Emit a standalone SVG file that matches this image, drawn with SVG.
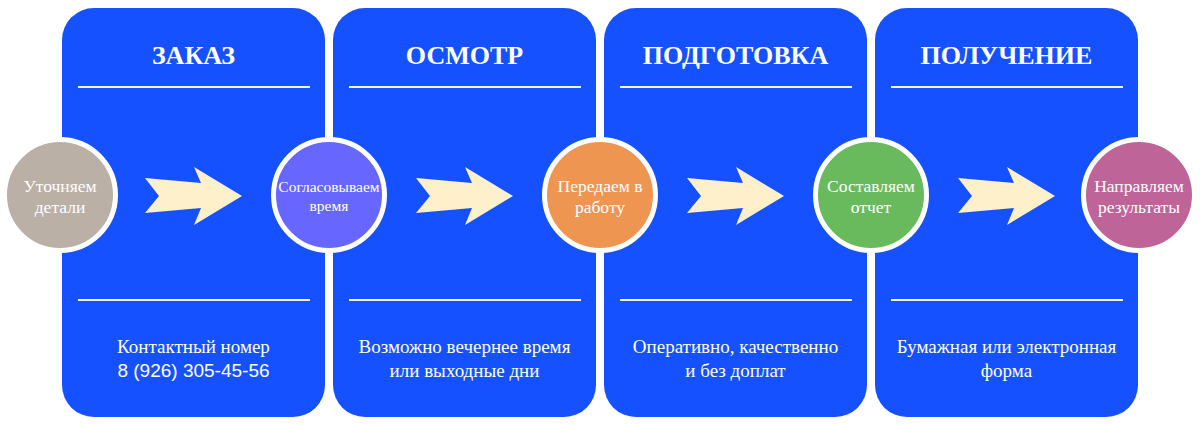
<svg xmlns="http://www.w3.org/2000/svg" width="1200" height="424" viewBox="0 0 1200 424">
  <defs>
    <style>
      .panel { fill: #1551FF; }
      .sep { stroke: #F2F5FF; stroke-width: 2; }
      .title { font-family: "Liberation Serif", "Times New Roman", serif; font-weight: bold; font-size: 26px; fill: #FFFFFF; text-anchor: middle; }
      .desc { font-family: "Liberation Serif", "Times New Roman", serif; font-size: 19px; fill: #FFFFFF; text-anchor: middle; }
      .desc-sans { font-family: "Liberation Sans", Arial, sans-serif; font-size: 19px; fill: #FFFFFF; text-anchor: middle; }
      .ring { stroke: #FFFFFF; stroke-width: 5; }
      .ctext { font-family: "Liberation Serif", "Times New Roman", serif; font-size: 17.5px; fill: #FFFFFF; text-anchor: middle; }
      .arrow { fill: #FFF0CC; }
    </style>
  </defs>
  <rect width="1200" height="424" fill="#FFFFFF"/>

  <g id="panel-zakaz">
    <rect class="panel" x="62" y="8" width="263" height="409" rx="32" ry="32"/>
    <text class="title" x="193.5" y="64">ЗАКАЗ</text>
    <line class="sep" x1="78" y1="87" x2="310" y2="87"/>
    <line class="sep" x1="78" y1="300" x2="310" y2="300"/>
    <text class="desc" x="193.5" y="353">Контактный номер</text>
    <text class="desc-sans" x="193.5" y="377">8 (926) 305-45-56</text>
  </g>

  <g id="panel-osmotr">
    <rect class="panel" x="333" y="8" width="263" height="409" rx="32" ry="32"/>
    <text class="title" x="464.5" y="64">ОСМОТР</text>
    <line class="sep" x1="349" y1="87" x2="581" y2="87"/>
    <line class="sep" x1="349" y1="300" x2="581" y2="300"/>
    <text class="desc" x="464.5" y="353">Возможно вечернее время</text>
    <text class="desc" x="464.5" y="377">или выходные дни</text>
  </g>

  <g id="panel-podgotovka">
    <rect class="panel" x="604" y="8" width="263" height="409" rx="32" ry="32"/>
    <text class="title" x="735.5" y="64">ПОДГОТОВКА</text>
    <line class="sep" x1="620" y1="87" x2="852" y2="87"/>
    <line class="sep" x1="620" y1="300" x2="852" y2="300"/>
    <text class="desc" x="735.5" y="353">Оперативно, качественно</text>
    <text class="desc" x="735.5" y="377">и без доплат</text>
  </g>

  <g id="panel-poluchenie">
    <rect class="panel" x="875" y="8" width="263" height="409" rx="32" ry="32"/>
    <text class="title" x="1006.5" y="64">ПОЛУЧЕНИЕ</text>
    <line class="sep" x1="891" y1="87" x2="1123" y2="87"/>
    <line class="sep" x1="891" y1="300" x2="1123" y2="300"/>
    <text class="desc" x="1006.5" y="353">Бумажная или электронная</text>
    <text class="desc" x="1006.5" y="377">форма</text>
  </g>

  <g id="connectors">
    <path class="arrow" d="M145,178 L201,183 L194,167 L242,196 L194,225 L201,208 L145,213 L159,196 Z"/>
    <path class="arrow" d="M416,178 L472,183 L465,167 L513,196 L465,225 L472,208 L416,213 L430,196 Z"/>
    <path class="arrow" d="M687,178 L743,183 L736,167 L784,196 L736,225 L743,208 L687,213 L701,196 Z"/>
    <path class="arrow" d="M958,178 L1014,183 L1007,167 L1055,196 L1007,225 L1014,208 L958,213 L972,196 Z"/>
  </g>

  <g id="step-1">
    <circle class="ring" cx="60" cy="195" r="55.5" fill="#BAB0A6"/>
    <text class="ctext" x="60" y="192">Уточняем</text>
    <text class="ctext" x="60" y="213">детали</text>
  </g>
  <g id="step-2">
    <circle class="ring" cx="329" cy="195" r="55.5" fill="#6767FF"/>
    <text class="ctext" x="329" y="192" style="font-size:15.5px">Согласовываем</text>
    <text class="ctext" x="329" y="211" style="font-size:15.5px">время</text>
  </g>
  <g id="step-3">
    <circle class="ring" cx="600" cy="195" r="55.5" fill="#EF9552"/>
    <text class="ctext" x="600" y="192">Передаем в</text>
    <text class="ctext" x="600" y="213">работу</text>
  </g>
  <g id="step-4">
    <circle class="ring" cx="871" cy="195" r="55.5" fill="#69BA5D"/>
    <text class="ctext" x="871" y="192">Составляем</text>
    <text class="ctext" x="871" y="213">отчет</text>
  </g>
  <g id="step-5">
    <circle class="ring" cx="1139" cy="195" r="55.5" fill="#BF6499"/>
    <text class="ctext" x="1139" y="192">Направляем</text>
    <text class="ctext" x="1139" y="213">результаты</text>
  </g>
</svg>
